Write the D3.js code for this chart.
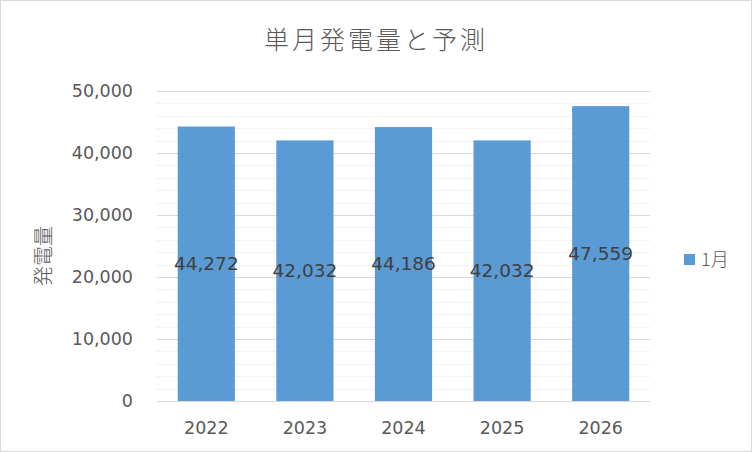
<!DOCTYPE html>
<html><head><meta charset="utf-8">
<script src="https://cdn.jsdelivr.net/npm/d3@7"></script>
<style>body{margin:0;background:#fff}svg{display:block}</style>
</head><body>
<script>
const categories = ["2022","2023","2024","2025","2026"];
const values = [44272,42032,44186,42032,47559];
const seriesName = "1月";
const title = "単月発電量と予測";
const yLabel = "発電量";
const yTicks = [0,10000,20000,30000,40000,50000];

const W=752,H=452;
const font='"Noto Sans CJK JP","Noto Sans",sans-serif';
const numFont='"DejaVu Sans",sans-serif';
const svg=d3.select("body").append("svg").attr("width",W).attr("height",H);
svg.append("rect").attr("x",0.5).attr("y",0.5).attr("width",W-1).attr("height",H-1)
  .attr("fill","#fff").attr("stroke","#d9d9d9");

const x=d3.scaleBand().domain(categories).range([157,650]).paddingInner(0.42).paddingOuter(0.21);
const y=d3.scaleLinear().domain([0,50000]).range([401,91]);

const minor=d3.range(0,50001,2000).filter(v=>v%10000!==0);
svg.append("g").selectAll("line").data(minor).join("line")
  .attr("x1",157).attr("x2",650).attr("y1",d=>Math.round(y(d))+0.5).attr("y2",d=>Math.round(y(d))+0.5)
  .attr("stroke","#f2f2f2");
svg.append("g").selectAll("line").data(yTicks).join("line")
  .attr("x1",157).attr("x2",650).attr("y1",d=>Math.round(y(d))+0.5).attr("y2",d=>Math.round(y(d))+0.5)
  .attr("stroke","#d9d9d9");

svg.append("g").selectAll("rect").data(values).join("rect")
  .attr("x",(d,i)=>x(categories[i])).attr("width",x.bandwidth())
  .attr("y",d=>y(d)).attr("height",d=>y(0)-y(d)).attr("fill","#5b9bd5");

const fmt=d3.format(",");
svg.append("g").selectAll("text").data(values).join("text")
  .attr("x",(d,i)=>x(categories[i])+x.bandwidth()/2).attr("y",d=>(y(d)+y(0))/2)
  .attr("dy","0.35em").attr("text-anchor","middle").attr("font-family",numFont)
  .attr("font-size",18.5).attr("fill","#404040").text(d=>fmt(d));

svg.append("g").selectAll("text").data(yTicks).join("text")
  .attr("x",133).attr("y",d=>y(d)).attr("dy","0.35em").attr("text-anchor","end")
  .attr("font-family",numFont).attr("font-size",17.5).attr("fill","#595959").text(d=>fmt(d));
svg.append("g").selectAll("text").data(categories).join("text")
  .attr("x",d=>x(d)+x.bandwidth()/2).attr("y",428).attr("dy","0.35em").attr("text-anchor","middle")
  .attr("font-family",numFont).attr("font-size",17.5).attr("fill","#595959").text(d=>d);

svg.append("text").attr("x",376).attr("y",40).attr("dy","0.35em").attr("text-anchor","middle")
  .attr("font-family",font).attr("font-weight",300).attr("font-size",25).attr("letter-spacing",3)
  .attr("fill","#595959").text(title);
svg.append("text").attr("transform","translate(44,256) rotate(-90)").attr("dy","0.35em")
  .attr("text-anchor","middle").attr("font-family",font).attr("font-weight",300).attr("font-size",20)
  .attr("fill","#595959").text(yLabel);

svg.append("rect").attr("x",684).attr("y",254).attr("width",11).attr("height",11).attr("fill","#5b9bd5");
svg.append("text").attr("x",701).attr("y",259.5).attr("dy","0.35em").attr("font-family",font)
  .attr("font-weight",300).attr("font-size",18).attr("fill","#595959").text(seriesName);
</script>
</body></html>
